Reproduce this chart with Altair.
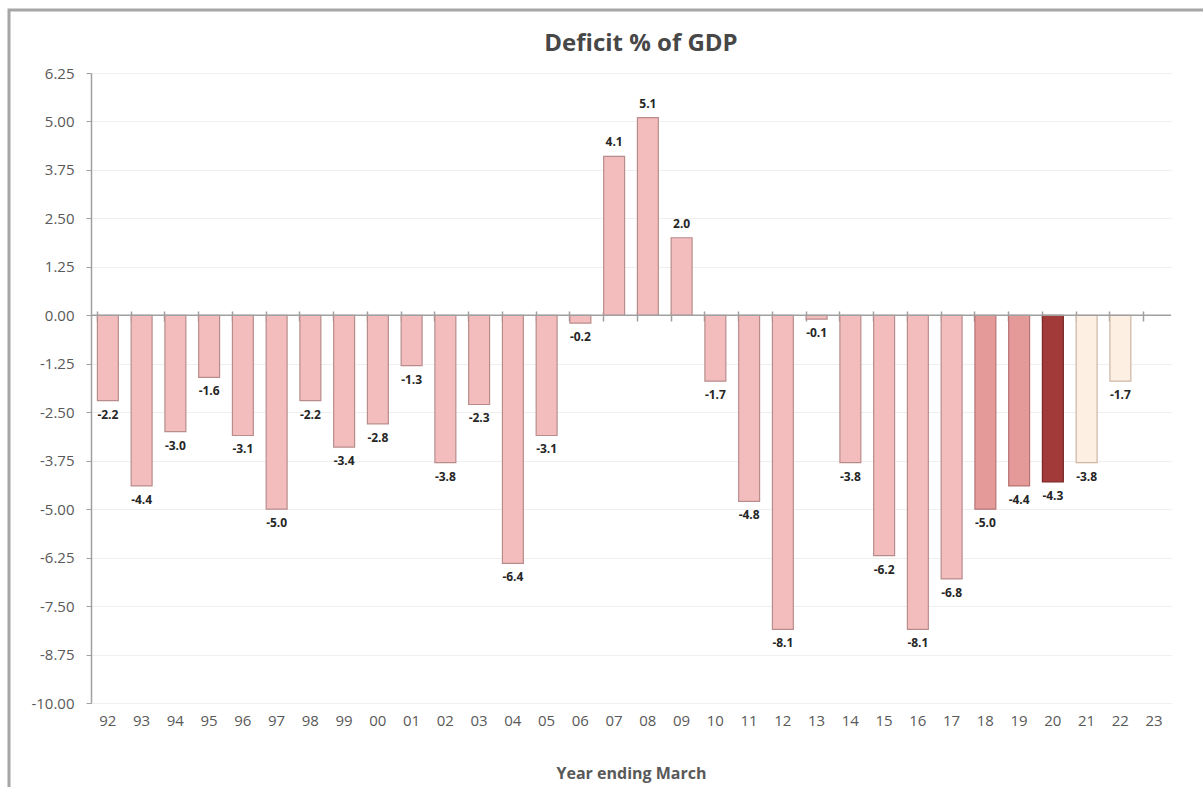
import altair as alt
import pandas as pd

years = ["92", "93", "94", "95", "96", "97", "98", "99", "00", "01", "02", "03", "04", "05", "06",
         "07", "08", "09", "10", "11", "12", "13", "14", "15", "16", "17", "18", "19", "20", "21", "22", "23"]
deficit = [-2.2, -4.4, -3.0, -1.6, -3.1, -5.0, -2.2, -3.4, -2.8, -1.3, -3.8, -2.3, -6.4, -3.1, -0.2,
           4.1, 5.1, 2.0, -1.7, -4.8, -8.1, -0.1, -3.8, -6.2, -8.1, -6.8, -5.0, -4.4, -4.3, -3.8, -1.7, None]
group = ["outturn"] * 26 + ["recent", "recent", "current", "forecast", "forecast", "forecast"]
y_ticks = [-10.0, -8.75, -7.5, -6.25, -5.0, -3.75, -2.5, -1.25, 0.0, 1.25, 2.5, 3.75, 5.0, 6.25]
title_text = "Deficit % of GDP"

group_domain = ["outturn", "recent", "current", "forecast"]
group_fill = ["#f3bdbd", "#e59a9a", "#a33a3a", "#fdf0e2"]
group_stroke = ["#b98c8c", "#b77474", "#7a2626", "#cdb6a4"]

df = pd.DataFrame({"year": years, "deficit": deficit, "group": group})

FONT = "Open Sans"
GREY = "#595959"
MINUS_FIX = "replace(format(datum.value, '.2f'), '\u2212', '-')"

xscale = alt.Scale(domain=years, paddingInner=0.38, paddingOuter=0.19)
yscale = alt.Scale(domain=[-10, 6.25], nice=False, zero=False)
y_axis = alt.Axis(title=None, values=y_ticks, labelExpr=MINUS_FIX, grid=True,
                  gridColor="#efefef", gridWidth=1, domainColor="#a0a0a0",
                  domainWidth=1.5, tickColor="#a0a0a0", tickSize=5,
                  labelPadding=12, labelFontSize=15, labelColor=GREY, labelFont=FONT)

base = alt.Chart(df)

bars = base.mark_bar(strokeWidth=1.2).encode(
    x=alt.X("year:N", scale=xscale, sort=None,
            axis=alt.Axis(title="Year ending March", labelAngle=0, domain=False, ticks=False,
                          labelPadding=10, labelFontSize=15, labelColor=GREY, labelFont=FONT,
                          titleFont=FONT, titleFontSize=16, titleFontWeight="bold",
                          titleColor=GREY, titlePadding=37)),
    y=alt.Y("deficit:Q", scale=yscale, axis=y_axis),
    fill=alt.Fill("group:N", scale=alt.Scale(domain=group_domain, range=group_fill), legend=None),
    stroke=alt.Stroke("group:N", scale=alt.Scale(domain=group_domain, range=group_stroke), legend=None),
)

zero_rule = base.transform_filter("datum.year == '92'").transform_calculate(z="0").mark_rule(
    color="#a0a0a0", strokeWidth=1.5
).encode(
    y=alt.Y("z:Q", scale=yscale, axis=y_axis), x=alt.value(0), x2=alt.value(1080)
)

zero_ticks = base.mark_bar(opacity=0).encode(
    x=alt.X("year:N", scale=xscale, sort=None,
            axis=alt.Axis(orient="top", title=None, labels=False, domain=False, ticks=True,
                          bandPosition=0, tickSize=10, tickColor="#a0a0a0", tickWidth=1.5,
                          offset=-248)),
    y=alt.Y("deficit:Q", scale=yscale, axis=y_axis),
)

text_common = dict(fontSize=12, fontWeight="bold", font=FONT, color="#262626", baseline="middle")
labelled = base.transform_filter("isValid(datum.deficit)").transform_calculate(
    label="replace(format(datum.deficit, '.1f'), '\u2212', '-')"
)
labels_neg = labelled.transform_filter("datum.deficit < 0").mark_text(dy=14, **text_common).encode(
    x=alt.X("year:N", scale=xscale, sort=None, axis=None),
    y=alt.Y("deficit:Q", scale=yscale, axis=y_axis),
    text="label:N",
)
labels_pos = labelled.transform_filter("datum.deficit >= 0").mark_text(dy=-14, **text_common).encode(
    x=alt.X("year:N", scale=xscale, sort=None, axis=None),
    y=alt.Y("deficit:Q", scale=yscale, axis=y_axis),
    text="label:N",
)

frame = alt.Chart(pd.DataFrame({"f": [0]})).mark_rect(
    fill=None, stroke="#a6a6a6", strokeWidth=3
).encode(x=alt.value(-82), y=alt.value(-63), x2=alt.value(1220), y2=alt.value(820))

title = alt.Chart(pd.DataFrame({"t": [title_text]})).mark_text(
    font=FONT, fontSize=24, fontWeight="bold", color="#474747", align="center", baseline="middle"
).encode(x=alt.value(550), y=alt.value(-29), text="t:N")

chart = alt.layer(bars, frame, zero_rule, zero_ticks, labels_neg, labels_pos, title).resolve_axis(
    x="independent"
).properties(
    width=1080, height=630,
    autosize=alt.AutoSizeParams(type="none"),
    padding={"left": 91, "top": 73, "right": 32, "bottom": 84},
    background="white",
).configure_view(stroke=None)

chart.save("out.html", embed_options={"renderer": "svg", "actions": False})
